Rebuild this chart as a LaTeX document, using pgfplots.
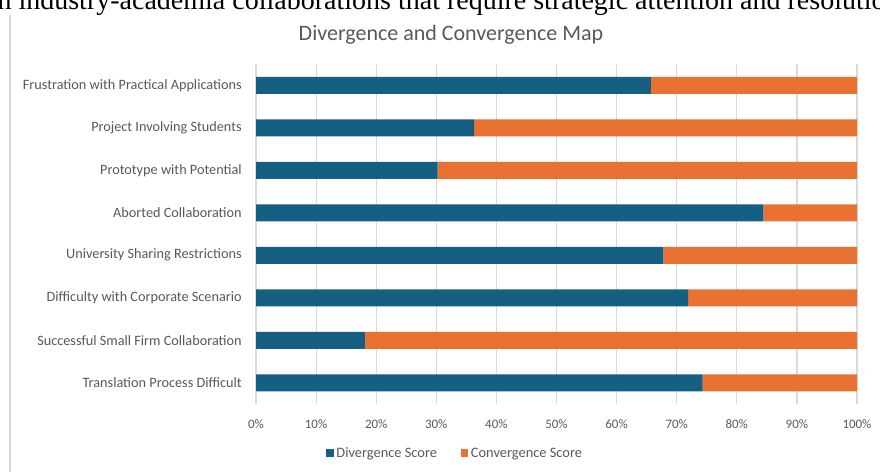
\documentclass[border=0pt]{standalone}
\usepackage{fontspec}
\setmainfont{Carlito}
\newfontfamily\seriffont{Liberation Serif}
\usepackage{pgfplots}
\pgfplotsset{compat=1.18}
\definecolor{divc}{HTML}{156082}
\definecolor{convc}{HTML}{E97132}
\definecolor{txtc}{HTML}{595959}
\definecolor{grdc}{HTML}{D9D9D9}
\begin{document}
\begin{tikzpicture}[x=0.75pt,y=0.75pt]
\clip (0,0) rectangle (880,472);
\fill[white] (0,0) rectangle (880,472);
\draw[grdc, line width=1pt] (10,0) -- (10,457);
\node[anchor=base west, inner sep=0pt, font=\seriffont\fontsize{21}{24}\selectfont] at (-10.5,462) {in industry-academia collaborations that require strategic attention and resolution};
\node[txtc, font=\fontsize{16.5}{19}\selectfont] at (451,437) {Divergence and Convergence Map};
\begin{axis}[
  at={(192pt,51pt)}, anchor=south west,
  scale only axis, width=450.75pt, height=255pt,
  xbar stacked, bar width=12.75pt,
  xmin=0, xmax=100, ymin=-0.5, ymax=7.5,
  xtick={0,10,...,100},
  xticklabel={\pgfmathprintnumber{\tick}\%},
  /pgf/number format/assume math mode=true,
  ytick={0,...,7},
  yticklabels={Translation Process Difficult, Successful Small Firm Collaboration, Difficulty with Corporate Scenario, University Sharing Restrictions, Aborted Collaboration, Prototype with Potential, Project Involving Students, Frustration with Practical Applications},
  xmajorgrids, grid style={grdc, line width=0.9pt},
  axis line style={draw=none}, major tick style={draw=none},
  tick label style={text=txtc},
  xticklabel style={inner sep=0pt, yshift=-11.5pt, font=\fontsize{9.7}{11}\selectfont},
  yticklabel style={inner sep=0pt, xshift=-10.5pt, font=\fontsize{10.7}{12}\selectfont},
  legend style={at={(0.332,0)}, anchor=center, yshift=-37pt, draw=none, fill=none,
    font=\fontsize{10.8}{12}\selectfont, text=txtc, legend columns=2,
    /tikz/every even column/.append style={column sep=16pt}},
  legend image code/.code={\fill[#1] (0pt,-3pt) rectangle (5.5pt,3pt);},
  every axis plot/.append style={draw=none},
]
\addplot[fill=divc] coordinates {(74.3,0) (18.1,1) (71.9,2) (67.8,3) (84.4,4) (30.2,5) (36.3,6) (65.7,7)};
\addplot[fill=convc] coordinates {(25.7,0) (81.9,1) (28.1,2) (32.2,3) (15.6,4) (69.8,5) (63.7,6) (34.3,7)};
\legend{Divergence Score, Convergence Score}
\end{axis}
\end{tikzpicture}
\end{document}
